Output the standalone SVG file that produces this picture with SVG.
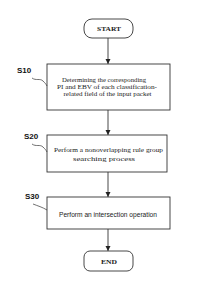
<svg xmlns="http://www.w3.org/2000/svg" width="210" height="298" viewBox="0 0 210 298">
<defs>
<marker id="ah" markerWidth="6" markerHeight="6" refX="5" refY="3" orient="auto" markerUnits="userSpaceOnUse">
<path d="M0,0.5 L5,3 L0,5.5 Z" fill="#222"/>
</marker>
<style>
.box{fill:#fff;stroke:#333;stroke-width:0.9}
.t{font-family:"Liberation Serif",serif;font-size:7px;fill:#222;text-anchor:middle}
.ts{font-family:"Liberation Sans",Arial,sans-serif;font-size:6.4px;fill:#222;text-anchor:middle}
.tb{font-family:"Liberation Serif",serif;font-size:6.8px;font-weight:bold;fill:#222;text-anchor:middle}
.lbl{font-family:"Liberation Sans",Arial,sans-serif;font-size:8px;font-weight:bold;fill:#111}
.c{fill:none;stroke:#333;stroke-width:0.9}
.sq{fill:none;stroke:#333;stroke-width:0.7}
</style>
</defs>
<rect width="210" height="298" fill="#fff"/>
<g id="connectors">
<line class="c" x1="108" y1="38" x2="108" y2="64" marker-end="url(#ah)"/>
<line class="c" x1="108" y1="110" x2="108" y2="135" marker-end="url(#ah)"/>
<line class="c" x1="108" y1="172" x2="108" y2="197" marker-end="url(#ah)"/>
<line class="c" x1="108" y1="229" x2="108" y2="251" marker-end="url(#ah)"/>
</g>
<g id="start">
<rect class="box" x="84" y="19" width="49" height="19" rx="8"/>
<text class="tb" x="109" y="31" textLength="24" lengthAdjust="spacingAndGlyphs">START</text>
</g>
<g id="s10">
<rect class="box" x="47" y="64" width="123" height="46"/>
<text class="t" x="104" y="82" textLength="84" lengthAdjust="spacingAndGlyphs">Determining the corresponding</text>
<text class="t" x="107" y="89" textLength="100" lengthAdjust="spacingAndGlyphs">PI and EBV of each classification-</text>
<text class="t" x="107.5" y="96" textLength="88" lengthAdjust="spacingAndGlyphs">related field of the input packet</text>
<text class="lbl" x="17" y="72.5">S10</text>
<path class="sq" d="M32,78 C36,81 40,78 43,81 C45,83 46,84 47,86"/>
</g>
<g id="s20">
<rect class="box" x="47" y="135" width="120" height="37"/>
<text class="t" x="108.5" y="151.5" textLength="109" lengthAdjust="spacingAndGlyphs">Perform a nonoverlapping rule group</text>
<text class="t" x="104" y="160.5" textLength="62" lengthAdjust="spacingAndGlyphs">searching process</text>
<text class="lbl" x="24" y="139">S20</text>
<path class="sq" d="M32,144 C36,147 40,144 43,147 C45,149 46,150 47,152"/>
</g>
<g id="s30">
<rect class="box" x="47" y="197" width="123" height="32"/>
<text class="ts" x="108" y="216.5" textLength="98" lengthAdjust="spacingAndGlyphs">Perform an intersection operation</text>
<text class="lbl" x="25" y="198.5">S30</text>
<path class="sq" d="M33,204 C38,206 42,207 47,210"/>
</g>
<g id="end">
<rect class="box" x="84" y="251" width="49" height="20" rx="6"/>
<text class="tb" x="109" y="263.5" textLength="16" lengthAdjust="spacingAndGlyphs">END</text>
</g>
</svg>
